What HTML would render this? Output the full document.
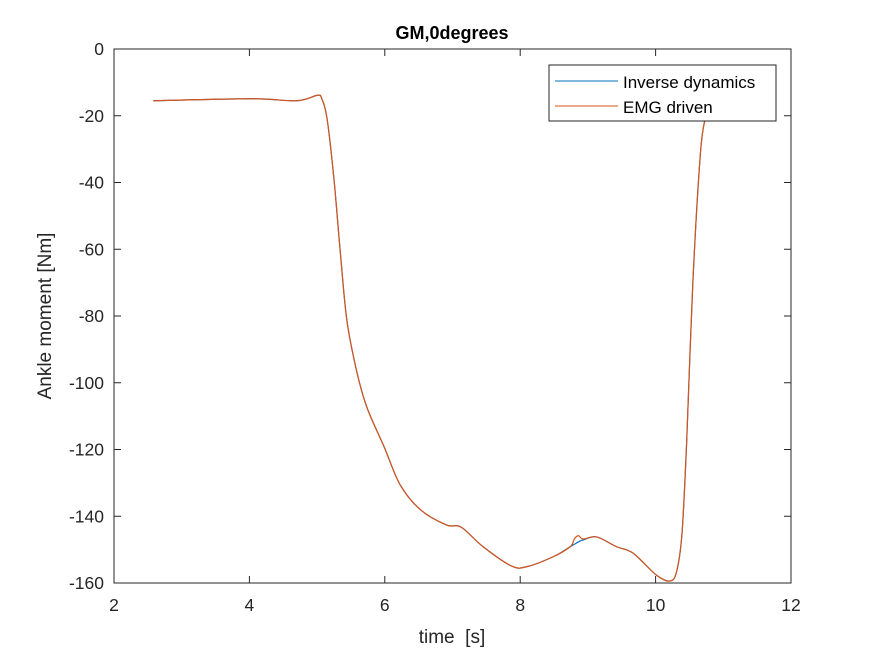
<!DOCTYPE html>
<html><head><meta charset="utf-8"><style>
body{margin:0;background:#fff;}
svg text{font-family:"Liberation Sans",Arial,sans-serif;}
</style></head><body>
<svg id="chart" width="875" height="656" viewBox="0 0 875 656">
<rect x="0" y="0" width="875" height="656" fill="#fff"/>
<g id="axes"></g>
<g id="series"></g>
<text x="452" y="39" text-anchor="middle" font-size="18" font-weight="bold" fill="#000">GM,0degrees</text>
<text x="452" y="643" text-anchor="middle" font-size="19" fill="#262626">time&#160; [s]</text>
<text transform="translate(51,316) rotate(-90)" text-anchor="middle" font-size="19" fill="#262626">Ankle moment [Nm]</text>
<g>
<rect x="549" y="65" width="227" height="56" fill="#fff" stroke="#262626" stroke-width="1"/>
<line x1="555" y1="81" x2="618" y2="81" stroke="#0072BD" stroke-width="1"/>
<text x="623" y="88" font-size="17" fill="#000">Inverse dynamics</text>
<line x1="555" y1="106" x2="618" y2="106" stroke="#D95319" stroke-width="1"/>
<text x="623" y="113" font-size="17" fill="#000">EMG driven</text>
</g>
</svg>
<script>
const times = [2.58,4.01,4.70,5.00,5.07,5.15,5.25,5.34,5.44,5.59,5.74,5.99,6.23,6.53,6.91,7.13,7.45,7.87,8.10,8.49,8.74,8.80,8.86,8.93,9.13,9.42,9.67,10.01,10.21,10.31,10.39,10.46,10.55,10.66,10.73,10.80];
const inverseDynamics = [-15.5,-14.9,-15.5,-13.9,-14.9,-21.3,-39.2,-60.2,-81.3,-97,-107.6,-119.2,-130.7,-138.1,-142.6,-143.3,-149.1,-154.9,-155.1,-152.1,-149.1,-148.4,-147.7,-147.1,-146.2,-149.1,-151.1,-157.6,-159.4,-156.6,-145.1,-117.2,-70,-31.8,-21,-15];
const emgDriven = [-15.5,-14.9,-15.5,-13.9,-14.9,-21.3,-39.2,-60.2,-81.3,-97,-107.6,-119.2,-130.7,-138.1,-142.6,-143.3,-149.1,-154.9,-155.1,-152.1,-149.1,-146.8,-145.8,-146.8,-146.2,-149.1,-151.1,-157.6,-159.4,-156.6,-145.1,-117.2,-70,-31.8,-21,-15];
const xTicks = [2,4,6,8,10,12];
const yTicks = [0,-20,-40,-60,-80,-100,-120,-140,-160];

const L=114,R=791,T=49,B=583;
function xs(t){return L+(t-2)/10*(R-L);}
function ys(v){return T+(0-v)/160*(B-T);}
const NS="http://www.w3.org/2000/svg";
const ax=document.getElementById('axes');
const frame=document.createElementNS(NS,'rect');
frame.setAttribute('x',L);frame.setAttribute('y',T);frame.setAttribute('width',R-L);frame.setAttribute('height',B-T);
frame.setAttribute('fill','#fff');frame.setAttribute('stroke','#262626');frame.setAttribute('stroke-width','1');


ax.appendChild(frame);
xTicks.forEach(t=>{
  const x=xs(t);
  [[B,B-7],[T,T+7]].forEach(p=>{
    const l=document.createElementNS(NS,'line');
    l.setAttribute('x1',x);l.setAttribute('x2',x);l.setAttribute('y1',p[0]);l.setAttribute('y2',p[1]);
    l.setAttribute('stroke','#262626');
    
    
    ax.appendChild(l);
  });
  const tx=document.createElementNS(NS,'text');
  tx.setAttribute('x',x);tx.setAttribute('y',B+28);tx.setAttribute('text-anchor','middle');
  tx.setAttribute('font-size','17.5');tx.setAttribute('fill','#262626');tx.textContent=t;
  
  
  ax.appendChild(tx);
});
yTicks.forEach(v=>{
  const y=ys(v);
  [[L,L+7],[R,R-7]].forEach(p=>{
    const l=document.createElementNS(NS,'line');
    l.setAttribute('x1',p[0]);l.setAttribute('x2',p[1]);l.setAttribute('y1',y);l.setAttribute('y2',y);
    l.setAttribute('stroke','#262626');
    
    
    ax.appendChild(l);
  });
  const tx=document.createElementNS(NS,'text');
  tx.setAttribute('x',L-10);tx.setAttribute('y',y+6);tx.setAttribute('text-anchor','end');
  tx.setAttribute('font-size','17.5');tx.setAttribute('fill','#262626');tx.textContent=v;
  
  
  ax.appendChild(tx);
});
function pathFor(vals){
  const p=times.map((t,i)=>[xs(t),ys(vals[i])]);
  let d='M'+p[0][0]+','+p[0][1];
  for(let i=0;i<p.length-1;i++){
    const p0=p[Math.max(0,i-1)],p1=p[i],p2=p[i+1],p3=p[Math.min(p.length-1,i+2)];
    const c1=[p1[0]+(p2[0]-p0[0])/6,p1[1]+(p2[1]-p0[1])/6];
    const c2=[p2[0]-(p3[0]-p1[0])/6,p2[1]-(p3[1]-p1[1])/6];
    d+=' C'+c1+' '+c2+' '+p2;
  }
  return d;
}
const sg=document.getElementById('series');
[[inverseDynamics,'#0072BD','series-inverse-dynamics'],[emgDriven,'#D95319','series-emg-driven']].forEach(s=>{
  const path=document.createElementNS(NS,'path');
  path.setAttribute('d',pathFor(s[0]));path.setAttribute('fill','none');
  path.setAttribute('stroke',s[1]);path.setAttribute('stroke-width','1.2');
  
  
  sg.appendChild(path);
});
</script>
</body></html>
